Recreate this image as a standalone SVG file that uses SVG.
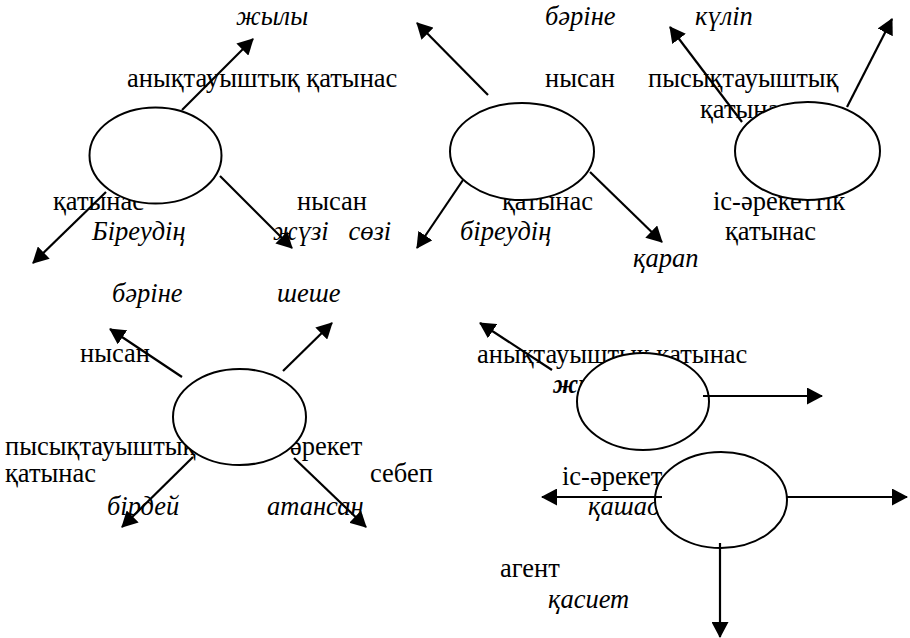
<svg xmlns="http://www.w3.org/2000/svg" width="910" height="638" viewBox="0 0 910 638">
<style>
text{font-family:'Liberation Serif','DejaVu Serif',serif;font-size:26.5px;fill:#000}
.i{font-style:italic}
.b{font-weight:bold}
ellipse{fill:#fff;stroke:#000;stroke-width:2}
line{stroke:#000;stroke-width:2.2}
</style>
<defs>
<marker id="ah" markerUnits="userSpaceOnUse" markerWidth="16" markerHeight="17" refX="15" refY="8.5" orient="auto">
<path d="M0,0 L16,8.5 L0,17 z" fill="#000"/>
</marker>
</defs>
<g id="labels" font-family="Liberation Serif, DejaVu Serif, serif">
<text class="i" x="236" y="25">жылы</text>
<text x="127" y="87">анықтауыштық қатынас</text>
<text x="53" y="210">қатынас</text>
<text x="297" y="210">нысан</text>
<text class="i" x="92" y="240">Біреудің</text>
<text class="i" x="273" y="240" xml:space="preserve">жүзі   сөзі</text>
<text class="i" x="545" y="25">бәріне</text>
<text class="i" x="695" y="25">күліп</text>
<text x="545" y="87">нысан</text>
<text x="648" y="87">пысықтауыштық</text>
<text x="700" y="118">қатынас</text>
<text x="502" y="210">қатынас</text>
<text class="i" x="460" y="240">біреудің</text>
<text class="i" x="633" y="267">қарап</text>
<text x="713" y="210">іс-әрекеттік</text>
<text x="725" y="240">қатынас</text>
<text class="i" x="112" y="302">бәріне</text>
<text class="i" x="277" y="302">шеше</text>
<text x="80" y="362">нысан</text>
<text x="5" y="455">пысықтауыштық</text>
<text x="290" y="455">әрекет</text>
<text x="5" y="482">қатынас</text>
<text x="370" y="482">себеп</text>
<text class="i" x="107" y="515">бірдей</text>
<text class="i" x="267" y="515">атансаң</text>
<text x="477" y="363">анықтауыштық қатынас</text>
<text class="i b" x="553" y="393">жылы</text>
<text x="562" y="485">іс-әрекет</text>
<text class="i" x="588" y="515">қашады</text>
<text x="500" y="577">агент</text>
<text class="i" x="548" y="608">қасиет</text>
</g>
<g id="node1"><ellipse cx="155.5" cy="155.5" rx="66" ry="48"/></g>
<g id="node2"><ellipse cx="522" cy="151.5" rx="72" ry="48.5"/></g>
<g id="node3"><ellipse cx="807.5" cy="151" rx="72.5" ry="49"/></g>
<g id="node4"><ellipse cx="239.5" cy="417" rx="66.5" ry="48"/></g>
<g id="node5"><ellipse cx="643" cy="401.5" rx="66" ry="48.5"/></g>
<g id="node6"><ellipse cx="721" cy="500" rx="66" ry="48"/></g>
<g id="connectors">
<line x1="182" y1="110" x2="253" y2="39" marker-end="url(#ah)"/>
<line x1="106" y1="192" x2="33" y2="263" marker-end="url(#ah)"/>
<line x1="220" y1="176" x2="292" y2="248" marker-end="url(#ah)"/>
<line x1="488" y1="95" x2="417" y2="23" marker-end="url(#ah)"/>
<line x1="463" y1="180" x2="417" y2="248" marker-end="url(#ah)"/>
<line x1="590" y1="172" x2="662" y2="242" marker-end="url(#ah)"/>
<line x1="742" y1="122" x2="670" y2="27" marker-end="url(#ah)"/>
<line x1="847" y1="107" x2="892" y2="19" marker-end="url(#ah)"/>
<line x1="182" y1="377" x2="110" y2="329" marker-end="url(#ah)"/>
<line x1="283" y1="371" x2="332" y2="323" marker-end="url(#ah)"/>
<line x1="193" y1="457" x2="122" y2="527" marker-end="url(#ah)"/>
<line x1="294" y1="458" x2="366" y2="527" marker-end="url(#ah)"/>
<line x1="552" y1="370" x2="480" y2="323" marker-end="url(#ah)"/>
<line x1="703" y1="396" x2="822" y2="396" marker-end="url(#ah)"/>
<line x1="662" y1="497" x2="542" y2="497" marker-end="url(#ah)"/>
<line x1="787" y1="497" x2="907" y2="497" marker-end="url(#ah)"/>
<line x1="720" y1="543" x2="720" y2="637" marker-end="url(#ah)"/>
</g>
</svg>
